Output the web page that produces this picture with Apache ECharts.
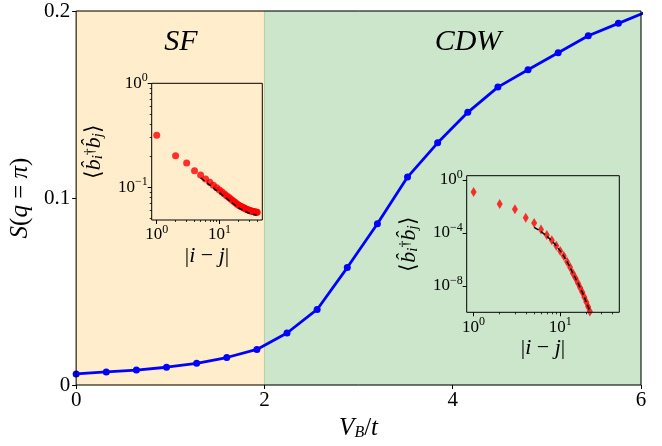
<!DOCTYPE html>
<html><head><meta charset="utf-8">
<script src="https://cdn.jsdelivr.net/npm/echarts@6/dist/echarts.min.js"></script>
<style>html,body{margin:0;padding:0;background:#fff}#c{width:662px;height:446px}</style>
</head><body><div id="c"></div>
<script>
// Main panel: S(q=pi) vs V_B/t
var vb = [0, 0.32, 0.64, 0.96, 1.28, 1.6, 1.92, 2.24, 2.56, 2.88, 3.2, 3.52, 3.84, 4.16, 4.48, 4.8, 5.12, 5.44, 5.76, 6.08];
var sq = [0.0059, 0.0070, 0.0080, 0.0095, 0.0116, 0.0147, 0.0190, 0.0278, 0.0404, 0.0628, 0.0862, 0.1112, 0.1295, 0.1458, 0.1593, 0.1686, 0.1777, 0.1868, 0.1934, 0.2000];
var xTicks = [0, 2, 4, 6];
var yTicks = [0, 0.1, 0.2];
var regions = [{name: 'SF', from: 0, to: 2}, {name: 'CDW', from: 2, to: 6}];

// Inset 1 (SF): correlation vs distance
var sfDist = [1,2,3,4,5,6,7,8,9,10,11,12,13,14,15,16,17,18,19,20,21,22,23,24,25,26,27,28,29,30,31,32,33,34,35,36,37,38,39,40];
var sfCorr = [0.316, 0.201, 0.171, 0.1445, 0.131, 0.1201, 0.1116, 0.1047, 0.0990, 0.0941, 0.0899, 0.0863, 0.0831, 0.0802, 0.0776, 0.0752, 0.0731, 0.0711, 0.0693, 0.0676, 0.0665, 0.0655, 0.0646, 0.0638, 0.0630, 0.0623, 0.0616, 0.0610, 0.0605, 0.0600, 0.0596, 0.0592, 0.0589, 0.0586, 0.0583, 0.0581, 0.0579, 0.0577, 0.0576, 0.0575];
var sfFitDist = [5,6,7,8,9,10,11,12,13,14,15,16,17,18,19,20,21,22,23,24,25,26,27,28,29,30,31,32,33,34,35,36,37,38,39,40];
var sfFit = [0.123, 0.113, 0.105, 0.0985, 0.0931, 0.0885, 0.0845, 0.0811, 0.0781, 0.0754, 0.0729, 0.0707, 0.0687, 0.0668, 0.0651, 0.0635, 0.0625, 0.0616, 0.0607, 0.0600, 0.0592, 0.0586, 0.0579, 0.0573, 0.0569, 0.0564, 0.0560, 0.0556, 0.0554, 0.0551, 0.0548, 0.0546, 0.0544, 0.0542, 0.0541, 0.0540];

// Inset 2 (CDW)
var cdwDist = [1,2,3,4,5,6,7,8,9,10,11,12,13,14,15,16,17,18,19,20,21,22,23,24];
var cdwCorr = [0.12, 0.0148, 0.0059, 0.00138, 5.5e-4, 1.8e-4, 6.8e-5, 2.7e-5, 1.07e-5, 4.3e-6, 1.8e-6, 6.6e-7, 2.5e-7, 8.7e-8, 3.8e-8, 1.66e-8, 7.2e-9, 3.2e-9, 1.38e-9, 6.0e-10, 2.6e-10, 1.15e-10, 5e-11, 2e-11];
var cdwFitDist = [5,6,7,8,9,10,11,12,13,14,15,16,17,18,19,20,21,22,23];
var cdwFit = [2.6e-4, 1.26e-4, 5.6e-5, 2.5e-5, 1.05e-5, 4.3e-6, 1.74e-6, 6.6e-7, 2.5e-7, 8.7e-8, 3.8e-8, 1.66e-8, 7.2e-9, 3.2e-9, 1.38e-9, 6.0e-10, 2.6e-10, 1.15e-10, 5e-11];

var insetXMajor = [1, 10];
var insetXMinor = [2,3,4,5,6,7,8,9,20,30,40];
var sf_yMajor = [1, 0.1];
var sf_yMinor = [0.05,0.06,0.07,0.08,0.09,0.2,0.3,0.4,0.5,0.6,0.7,0.8,0.9];
var cdw_yMajor = [1, 1e-4, 1e-8];

var F = '"Liberation Serif", serif';
function zip(a, b) { return a.map(function (v, i) { return [v, b[i]]; }); }
function powLabel(v) {
  var e = Math.round(Math.log10(v));
  return '{b|10}{s|' + (e < 0 ? '\u2212' + (-e) : e) + '}';
}
var powRich = {
  b: {fontFamily: F, fontSize: 17, color: '#000', lineHeight: 22},
  s: {fontFamily: F, fontSize: 12, color: '#000', lineHeight: 12, verticalAlign: 'top'}
};
var mathRich = {
  i: {fontFamily: F, fontStyle: 'italic', fontSize: 22, color: '#000'},
  r: {fontFamily: F, fontSize: 22, color: '#000'},
  sub: {fontFamily: F, fontStyle: 'italic', fontSize: 15, color: '#000', verticalAlign: 'bottom', lineHeight: 14},
  sup: {fontFamily: F, fontSize: 14, color: '#000', verticalAlign: 'top', lineHeight: 14}
};
var corrName = '{r|\u27E8}{i|b\u0302}{sub|i}{sup|\u2020}{i|b\u0302}{sub|j}{r|\u27E9}';
var distName = '{r||}{i|i}{r| \u2212 }{i|j}{r||}';

function logXAxis(grid, major, minor) {
  return [{
    gridIndex: grid, type: 'log', min: 0.832, max: 48.1, position: 'bottom', z: 6,
    axisLine: {show: false}, splitLine: {show: false},
    axisTick: {show: true, inside: false, length: 4, customValues: major, lineStyle: {color: '#000', width: 1}},
    axisLabel: {show: true, customValues: major, margin: 4, formatter: powLabel, rich: powRich},
    name: distName, nameLocation: 'middle', nameGap: 25, nameTextStyle: {rich: mathRich}
  }, {
    gridIndex: grid, type: 'log', min: 0.832, max: 48.1, position: 'bottom', z: 6,
    axisLine: {show: false}, splitLine: {show: false}, axisLabel: {show: false},
    axisTick: {show: true, length: 2, customValues: minor, lineStyle: {color: '#000', width: 0.8}}
  }];
}
function logYAxis(grid, min, max, major, minor) {
  var a = [{
    gridIndex: grid, type: 'log', min: min, max: max, position: 'left', z: 6,
    axisLine: {show: false}, splitLine: {show: false},
    axisTick: {show: true, length: 4, customValues: major, lineStyle: {color: '#000', width: 1}},
    axisLabel: {show: true, customValues: major, margin: 4, formatter: powLabel, rich: powRich},
    name: corrName, nameLocation: 'middle', nameRotate: 90, nameGap: 46, nameTextStyle: {rich: mathRich}
  }];
  if (minor) a.push({
    gridIndex: grid, type: 'log', min: min, max: max, position: 'left', z: 6,
    axisLine: {show: false}, splitLine: {show: false}, axisLabel: {show: false},
    axisTick: {show: true, length: 2, customValues: minor, lineStyle: {color: '#000', width: 0.8}}
  });
  return a;
}

var chart = echarts.init(document.getElementById('c'), null, {renderer: 'canvas'});
var gridBase = {show: true, borderColor: '#000', borderWidth: 1, backgroundColor: 'transparent', z: 5, containLabel: false};
var x1 = logXAxis(1, insetXMajor, insetXMinor);
var x2 = logXAxis(2, insetXMajor, insetXMinor);
var y1 = logYAxis(1, 0.0485, 1, sf_yMajor, sf_yMinor);
var y2 = logYAxis(2, 1e-10, 2.04, cdw_yMajor, null);

chart.setOption({
  animation: false,
  backgroundColor: '#fff',
  grid: [
    Object.assign({left: 75.5, top: 11, width: 565.5, height: 374}, gridBase),
    Object.assign({left: 151.7, top: 83.3, width: 110.6, height: 136.7}, gridBase),
    Object.assign({left: 466.7, top: 175.7, width: 152.6, height: 136.6}, gridBase)
  ],
  xAxis: [{
    gridIndex: 0, type: 'value', min: 0, max: 6, interval: 2, position: 'bottom', z: 6,
    axisLine: {show: false}, splitLine: {show: false},
    axisTick: {show: true, length: 4, lineStyle: {color: '#000', width: 1}},
    axisLabel: {fontFamily: F, fontSize: 21, color: '#000', margin: 5},
    name: '{i|V}{sub|B}{r|/}{i|t}', nameLocation: 'middle', nameGap: 20,
    nameTextStyle: {rich: {
      i: {fontFamily: F, fontStyle: 'italic', fontSize: 25, color: '#000'},
      r: {fontFamily: F, fontSize: 25, color: '#000'},
      sub: {fontFamily: F, fontStyle: 'italic', fontSize: 16, color: '#000', verticalAlign: 'bottom', lineHeight: 14}
    }}
  }].concat(x1, x2),
  yAxis: [{
    gridIndex: 0, type: 'value', min: 0, max: 0.2, interval: 0.1, position: 'left', z: 6,
    axisLine: {show: false}, splitLine: {show: false},
    axisTick: {show: true, length: 4, lineStyle: {color: '#000', width: 1}},
    axisLabel: {fontFamily: F, fontSize: 21, color: '#000', margin: 6,
      formatter: function (v) { return v === 0 ? '0' : v.toFixed(1); }},
    name: '{i|S}{r|(}{i|q}{r| = }{i|\u03C0}{r|)}', nameLocation: 'middle', nameRotate: 90, nameGap: 36,
    nameTextStyle: {rich: {
      i: {fontFamily: F, fontStyle: 'italic', fontSize: 25, color: '#000'},
      r: {fontFamily: F, fontSize: 25, color: '#000'}
    }}
  }].concat(y1, y2),
  graphic: [
    {type: 'text', x: 181, y: 42, z: 10, style: {text: regions[0].name, fontFamily: F, fontStyle: 'italic', fontSize: 30, fill: '#000', align: 'center', verticalAlign: 'middle'}},
    {type: 'text', x: 468, y: 42, z: 10, style: {text: regions[1].name, fontFamily: F, fontStyle: 'italic', fontSize: 30, fill: '#000', align: 'center', verticalAlign: 'middle'}}
  ],
  series: [{
    type: 'line', xAxisIndex: 0, yAxisIndex: 0, data: zip(vb, sq), clip: true, z: 3,
    symbol: 'circle', symbolSize: 7, showSymbol: true,
    itemStyle: {color: '#0000ff'}, lineStyle: {color: '#0000ff', width: 2.8},
    markArea: {silent: true, z: 1, data: [
      [{xAxis: regions[0].from, itemStyle: {color: '#ffedcc', borderColor: 'rgba(255,165,0,0.25)', borderWidth: 1}}, {xAxis: regions[0].to}],
      [{xAxis: regions[1].from, itemStyle: {color: '#cce6cc', borderColor: 'rgba(0,128,0,0.2)', borderWidth: 1}}, {xAxis: regions[1].to}]
    ]}
  }, {
    type: 'scatter', xAxisIndex: 1, yAxisIndex: 1, data: zip(sfDist, sfCorr), z: 3, clip: true,
    symbol: 'circle', symbolSize: 7, itemStyle: {color: '#ff0000'}
  }, {
    type: 'line', xAxisIndex: 1, yAxisIndex: 1, data: zip(sfFitDist, sfFit), z: 4, clip: true,
    showSymbol: false, symbol: 'none', lineStyle: {color: '#000', width: 1.5, type: [5, 3]}
  }, {
    type: 'scatter', xAxisIndex: 3, yAxisIndex: 3, data: zip(cdwDist, cdwCorr), z: 3, clip: true,
    symbol: 'diamond', symbolSize: [6, 10], itemStyle: {color: '#ff0000'}
  }, {
    type: 'line', xAxisIndex: 3, yAxisIndex: 3, data: zip(cdwFitDist, cdwFit), z: 4, clip: true,
    showSymbol: false, symbol: 'none', lineStyle: {color: '#000', width: 1.5, type: [5, 3]}
  }]
});
</script></body></html>
